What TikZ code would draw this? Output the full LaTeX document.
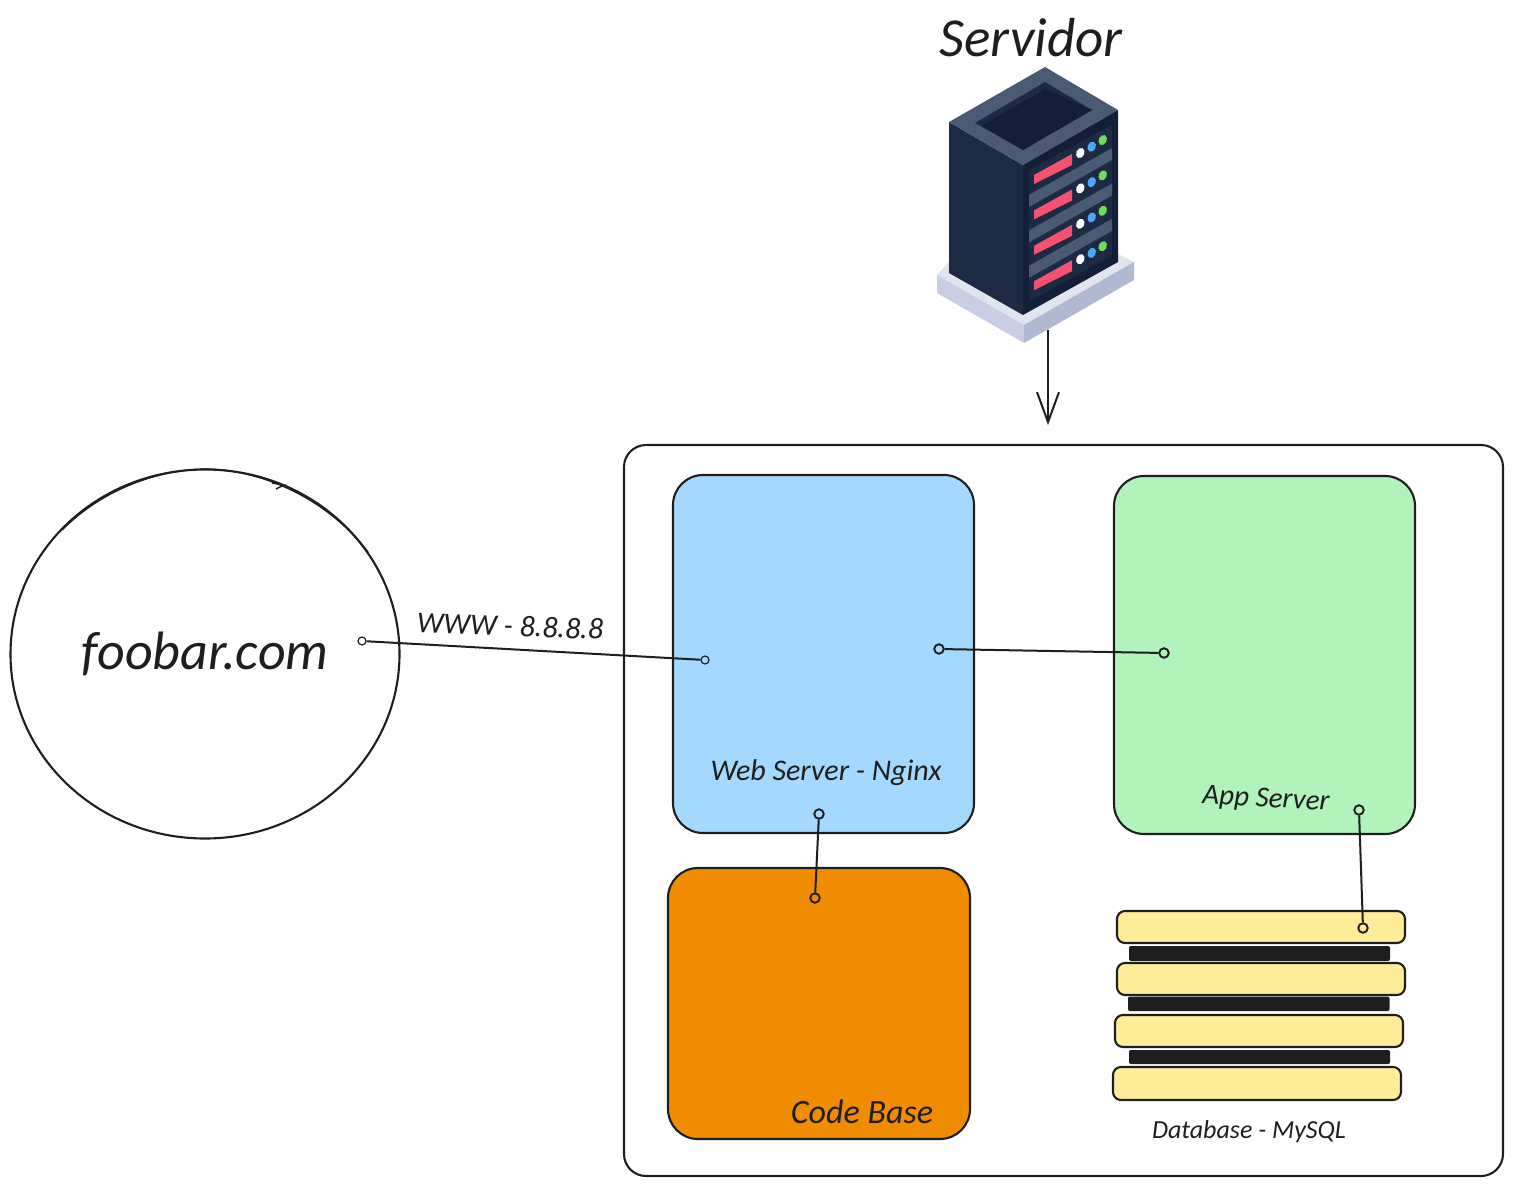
\documentclass[tikz,border=0pt]{standalone}
\usepackage{fontspec}
\setmainfont{Carlito}
\usetikzlibrary{arrows.meta,shapes.geometric}
\definecolor{ink}{HTML}{1E1E1E}
\definecolor{bluefill}{HTML}{A5D8FF}
\definecolor{greenfill}{HTML}{B2F2BB}
\definecolor{orangefill}{HTML}{F08C00}
\definecolor{yellowfill}{HTML}{FFEC99}
\definecolor{srvdark}{HTML}{1D2A44}
\definecolor{srvdeep}{HTML}{131F38}
\definecolor{srvgrey}{HTML}{4A5A74}
\definecolor{srvred}{HTML}{F55170}
\definecolor{baseTop}{HTML}{E0E4EF}
\definecolor{baseLeft}{HTML}{C9CEE4}
\definecolor{baseRight}{HTML}{B0B8D2}
\definecolor{ledblue}{HTML}{4DA8F5}
\definecolor{ledgreen}{HTML}{6FDC5A}
\tikzset{
  x=1pt,y=-1pt,
  stroke/.style={draw=ink,line width=2.1pt},
  panel/.style={stroke,rounded corners=#1},
  hand/.style={text=ink,inner sep=0pt,font=\itshape\fontsize{#1}{#1}\selectfont},
  dotend/.style={circle,draw=ink,line width=1.9pt,minimum size=9.5pt,inner sep=0pt},
  smalldot/.style={circle,draw=ink,line width=1.2pt,minimum size=8pt,inner sep=0pt},
  link/.style={draw=ink,line width=2pt},
  sketchline/.style={draw=ink,line width=1.4pt},
  led/.style={x radius=4,y radius=5.3},
}
\begin{document}
\begin{tikzpicture}
\useasboundingbox (0,0) rectangle (1513,1186);
% outer frame
\draw[panel=22pt] (624,445) rectangle (1503,1176);
% site circle
\draw[sketchline] (62,530) .. controls (105,487) and (160,470) .. (205,469) .. controls (250,469) and (320,490) .. (368,552);
\draw[sketchline] (272,483) -- (284,485) -- (276,489);
\node[stroke,ellipse,minimum width=389pt,minimum height=369pt,inner sep=0pt,hand=54] (site) at (205,654) {foobar.com};
% panels
\draw[panel=30pt,fill=bluefill] (673,475) rectangle (974,833);
\draw[panel=30pt,fill=greenfill] (1114,476) rectangle (1415,834);
\draw[panel=30pt,fill=orangefill] (668,868) rectangle (970,1139);
% database
\foreach \ya/\yb/\xa/\xb in {911/943/1117/1405,963/995/1117/1405,1015/1047/1115/1403,1067/1100/1113/1401}
  \draw[panel=8pt,fill=yellowfill] (\xa,\ya) rectangle (\xb,\yb);
\foreach \ya/\yb/\xa/\xb in {946/961/1129/1390,996.5/1011/1128/1389.5,1050/1064/1129/1390}
  \fill[ink,rounded corners=2pt] (\xa,\ya) rectangle (\xb,\yb);
% texts
\node[hand=55] at (1031,38) {Servidor};
\node[hand=30,rotate=-2] at (510,626) {WWW - 8.8.8.8};
\node[hand=30] at (826,773) {Web Server - Nginx};
\node[hand=29,rotate=-3] at (1266,800) {App Server};
\node[hand=34] at (862,1112) {Code Base};
\node[hand=26] at (1249,1132) {Database - MySQL};
% connector ends
\node[smalldot] (wwwA) at (362,641) {};
\node[smalldot] (wwwB) at (705,660) {};
\node[dotend] (webA) at (939,649) {};
\node[dotend] (appA) at (1164,653) {};
\node[dotend] (webB) at (819,814) {};
\node[dotend] (codeA) at (815,898) {};
\node[dotend] (appB) at (1359,810) {};
\node[dotend] (dbA) at (1363,928) {};
\draw[link] (wwwA) -- (wwwB);
\draw[link] (webA) -- (appA);
\draw[link] (webB) -- (codeA);
\draw[link] (appB) -- (dbA);
% server arrow
\coordinate (srvfoot) at (1048,330);
\coordinate (srvtip) at (1048,425);
\draw[link,-{Straight Barb[length=30pt,width=22pt,line width=2pt]}] (srvfoot) -- (srvtip);
% server base
\fill[baseTop] (937,275) -- (1024,325) -- (1134,262) -- (1110,250) -- (960,250) -- cycle;
\fill[baseLeft] (937,275) -- (1024,325) -- (1024,343) -- (937,293) -- cycle;
\fill[baseRight] (1024,325) -- (1134,262) -- (1134,280) -- (1024,343) -- cycle;
% server body
\fill[srvdark] (949,122) -- (1023,165) -- (1023,315) -- (949,273) -- cycle;
\fill[srvgrey] (949,122) -- (1045,67) -- (1118,110) -- (1023,165) -- cycle;
\fill[srvdark] (975,123) -- (1045,82) -- (1092,110) -- (1023,150) -- cycle;
\fill[srvdeep] (982,126) -- (1045,89) -- (1092,110) -- (1023,150) -- cycle;
\fill[srvdeep] (1023,165) -- (1118,110) -- (1118,262) -- (1023,315) -- cycle;
\fill[srvdark] (1029,170) -- (1112,125) -- (1112,255) -- (1029,302) -- cycle;
\foreach \d in {0,35.4,70.8} {
  \fill[srvgrey] (1029,195+\d) -- (1112,148+\d) -- (1112,160+\d) -- (1029,207+\d) -- cycle;
}
\foreach \d in {0,35.4,70.8,106.2} {
  \fill[srvred] (1034,175+\d) -- (1072,154+\d) -- (1072,165+\d) -- (1034,184+\d) -- cycle;
  \fill[white,rotate around={-25:(1080.3,153+\d)}] (1080.3,153+\d) ellipse [led];
  \fill[ledblue,rotate around={-25:(1091.7,146.7+\d)}] (1091.7,146.7+\d) ellipse [led];
  \fill[ledgreen,rotate around={-25:(1102.7,140+\d)}] (1102.7,140+\d) ellipse [led];
}
\end{tikzpicture}
\end{document}
